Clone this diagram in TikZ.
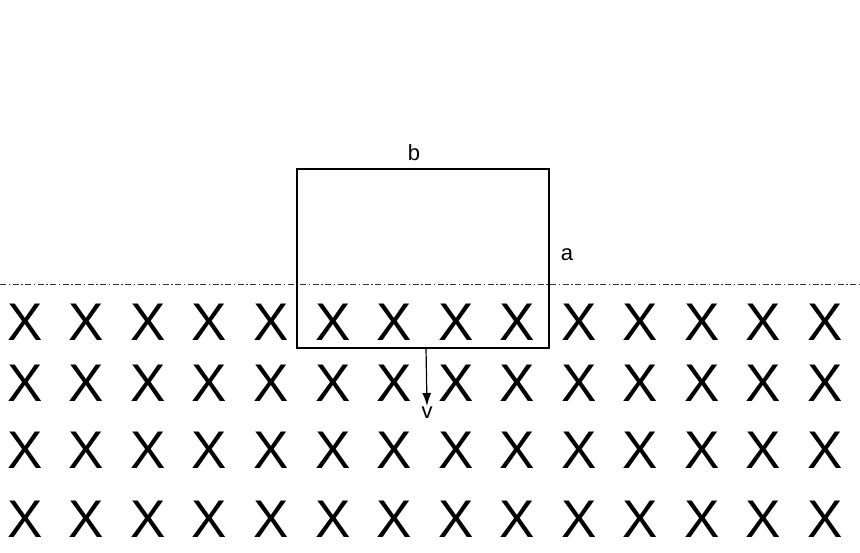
\documentclass[tikz,border=0pt]{standalone}
\usepackage{fontspec}
\setmainfont{Liberation Sans}
\usetikzlibrary{arrows.meta}

\begin{document}
\begin{tikzpicture}[x=1pt, y=-1pt,
    cross/.style={font=\fontsize{53}{53}\selectfont, inner sep=0pt},
    lbl/.style={font=\fontsize{22}{22}\selectfont, inner sep=1pt}]
    % Keep the page size
    \useasboundingbox (0,0) rectangle (860,552);

    % Field into the page
    \foreach \row/\y in {1/322, 2/383, 3/450, 4/519}
        \foreach \col in {0,...,13}
            \node[cross] (x\row-\col) at ({25+61.54*\col},\y) {X};

    % Edge of the field
    \draw[line width=0.9pt, black!80, dash pattern=on 6pt off 2.5pt on 1.5pt off 2.5pt]
        (0,284) -- (860,284);

    % The loop
    \draw[line width=1.6pt] (297,169) rectangle (549,348);

    % Labels
    \node[lbl] (b) at (414,153) {b};
    \node[lbl] (a) at (567,255) {a};
    \node[lbl] (v) at (427,413) {v};

    % Velocity
    \coordinate (vstart) at (426,348);
    \draw[-{Latex[length=13pt,width=9pt]}, line width=1.2pt] (vstart) -- (v.north);
\end{tikzpicture}
\end{document}
